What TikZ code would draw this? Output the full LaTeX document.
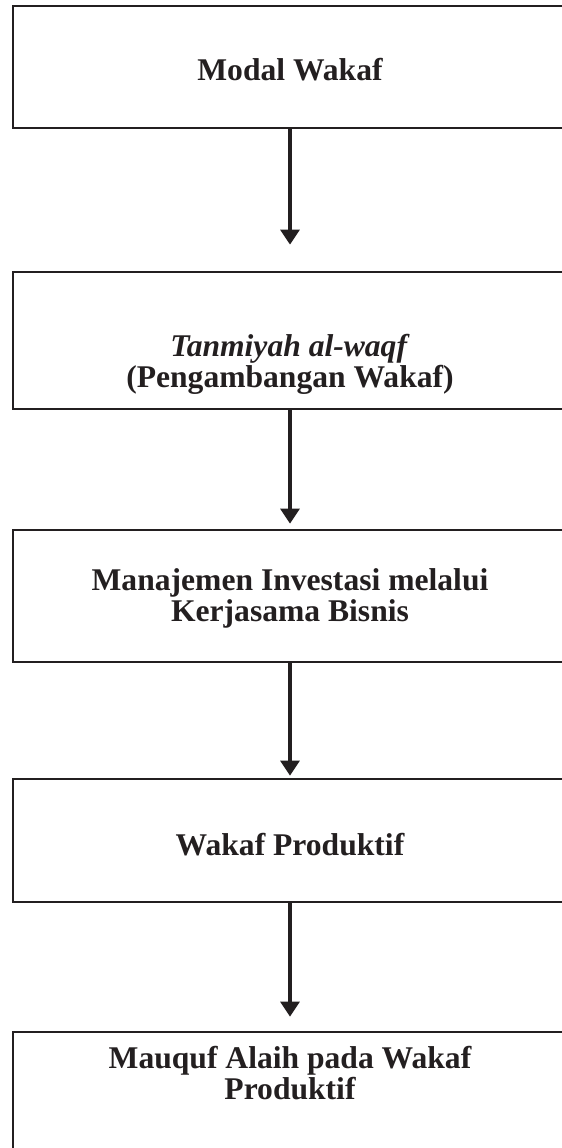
\documentclass[tikz,border=0pt]{standalone}
\usepackage{fontspec}
\setmainfont{Liberation Serif}
\usepackage{xcolor}
\usetikzlibrary{arrows.meta,positioning}
\definecolor{inkblack}{HTML}{231F20}

\begin{document}
\begin{tikzpicture}[x=0.5pt,y=-0.5pt,
    box/.style={draw=inkblack,line width=1.4pt,minimum width=277pt,inner sep=0pt},
    lbl/.style={text=inkblack,font=\bfseries\fontsize{15.8}{15.6}\selectfont,align=center},
    flow/.style={draw=inkblack,line width=1.6pt,-{Triangle[width=9.5pt,length=7.5pt]}}]
\useasboundingbox (0,0) rectangle (562,1148);
\clip (0,0) rectangle (562,1148);
% boxes
\node[box,minimum height=61pt]   (b1) at (290,67)    {};
\node[box,minimum height=68.5pt] (b2) at (290,340.5) {};
\node[box,minimum height=66pt]   (b3) at (290,596)   {};
\node[box,minimum height=61.5pt] (b4) at (290,840.5) {};
\node[box,minimum height=70pt]   (b5) at (290,1102)  {};
% texts
\node[lbl] (t1) at (290,70)   {Modal Wakaf};
\node[lbl] (t2) at (290,364)  {\textit{Tanmiyah al-waqf}\\(Pengambangan Wakaf)};
\node[lbl] (t3) at (290,598)  {Manajemen Investasi melalui\\Kerjasama Bisnis};
\node[lbl] (t4) at (290,845)  {Wakaf Produktif};
\node[lbl] (t5) at (290,1073) {Mauquf Alaih pada Wakaf\\Produktif};
% arrows
\foreach \a/\b/\s in {b1/b2/13pt,b2/b3/2.5pt,b3/b4/1pt,b4/b5/7pt}{\draw[flow,shorten >=\s] (\a) -- (\b);}
\end{tikzpicture}
\end{document}
